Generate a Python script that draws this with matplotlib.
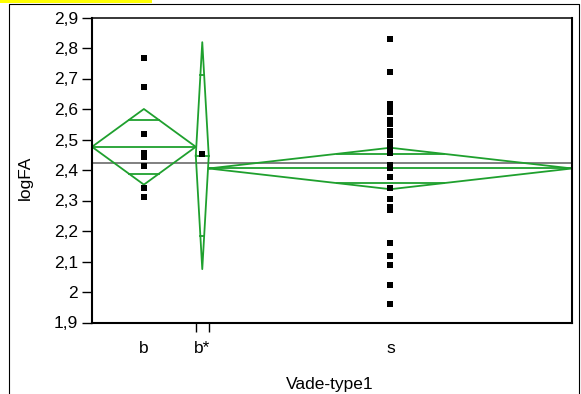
import numpy as np
import matplotlib
matplotlib.use("Agg")
import matplotlib.pyplot as plt
from matplotlib.lines import Line2D
from matplotlib.patches import Rectangle

plt.rcParams['font.family'] = ['Liberation Sans', 'DejaVu Sans']

# groups and raw values
groups = ['b', 'b*', 's']
vals_b = [2.768, 2.673, 2.517, 2.457, 2.444, 2.413, 2.340, 2.312]
vals_bstar = [2.451]
vals_s = [2.829, 2.722, 2.617, 2.597, 2.590, 2.564, 2.551, 2.528, 2.515,
          2.492, 2.485, 2.479, 2.466, 2.456, 2.415, 2.412, 2.405, 2.376,
          2.341, 2.305, 2.279, 2.275, 2.269, 2.161, 2.118, 2.089, 2.024, 1.961]

# means diamonds (mean, 95% CI half width) and grand mean
group_means = [2.476, 2.447, 2.405]
ci_half = [0.124, 0.372, 0.068]
grand_mean = 2.422

yticks = [1.9, 2.0, 2.1, 2.2, 2.3, 2.4, 2.5, 2.6, 2.7, 2.8, 2.9]
ytick_labels = ['1,9', '2', '2,1', '2,2', '2,3', '2,4', '2,5', '2,6', '2,7', '2,8', '2,9']

green = '#1fa02e'
fs = 12.5

W, H = 581, 394
fig = plt.figure(figsize=(W / 100, H / 100), dpi=100)
ax = fig.add_axes([92 / W, 1 - 322.5 / H, 480 / W, 305 / H])

all_vals = [vals_b, vals_bstar, vals_s]
counts = [len(v) for v in all_vals]
edges = np.concatenate([[0], np.cumsum(counts)])
centers = (edges[:-1] + edges[1:]) / 2

ax.axhline(grand_mean, color='#808080', lw=1.4, zorder=1)

for i, v in enumerate(all_vals):
    x0, x1, xc = edges[i], edges[i + 1], centers[i]
    m, h = group_means[i], ci_half[i]
    ax.plot([x0, xc, x1, xc, x0], [m, m + h, m, m - h, m], color=green, lw=1.3, zorder=2)
    ax.plot([x0, x1], [m, m], color=green, lw=1.3, zorder=2)
    # overlap marks
    hw = (x1 - x0) / 2 * (1 - 1 / np.sqrt(2))
    for s in (1, -1):
        ax.plot([xc - hw, xc + hw], [m + s * h / np.sqrt(2)] * 2, color=green, lw=1.3, zorder=2)
    ax.plot([xc] * len(v), v, 's', color='black', ms=3.8, mew=0, zorder=3)

ax.set_xlim(edges[0], edges[-1])
ax.set_ylim(1.9, 2.9)
ax.set_yticks(yticks)
ax.set_yticklabels(ytick_labels)
ax.set_xticks(centers)
ax.set_xticklabels(groups)
ax.set_xticks(edges[1:-1], minor=True)
ax.tick_params(axis='x', which='major', length=0, pad=13, labelsize=fs)
ax.tick_params(axis='x', which='minor', length=6.5, width=1.0, direction='out')
ax.tick_params(axis='y', length=7.2, width=1.0, pad=3.0, labelsize=fs)

for side in ['left', 'bottom', 'right']:
    ax.spines[side].set_linewidth(1.5)
ax.spines['top'].set_linewidth(1.1)

ax.set_ylabel('logFA', fontsize=fs)
ax.yaxis.set_label_coords(-0.123, 0.474)
ax.set_xlabel('Vade-type1', fontsize=fs)
ax.xaxis.set_label_coords(0.496, -0.179)

# outer frame and yellow strip
fig.add_artist(Rectangle((0, 1 - 3 / H), 152 / W, 3 / H, transform=fig.transFigure,
                         facecolor='#ffff00', edgecolor='none'))
fig.add_artist(Line2D([8.5 / W, 8.5 / W, 579 / W, 579 / W], [0, 1 - 3.5 / H, 1 - 3.5 / H, 0],
                      transform=fig.transFigure, color='black', lw=0.8))

fig.savefig('out.png', dpi=100)
